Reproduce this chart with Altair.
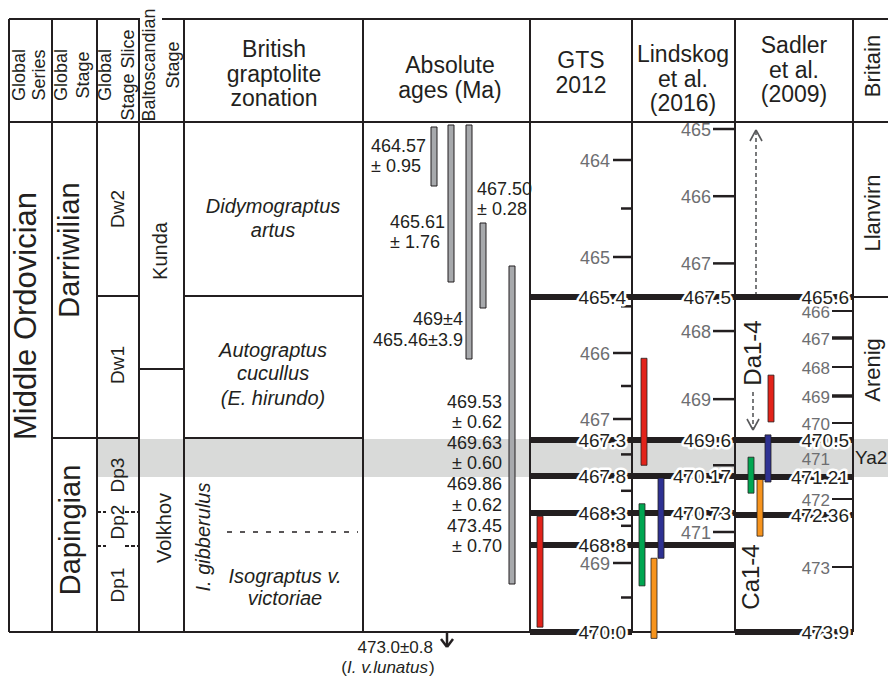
import altair as alt
import pandas as pd

# ---------------- values ----------------
series_name = "Middle Ordovician"
stage_names = ["Darriwilian", "Dapingian"]
slice_names = ["Dw2", "Dw1", "Dp3", "Dp2", "Dp1"]
balto_names = ["Kunda", "Volkhov"]
zone_names = [["Didymograptus", "artus"],
              ["Autograptus", "cucullus", "(E. hirundo)"],
              ["Isograptus v.", "victoriae"]]
subzone_name = "I. gibberulus"
britain_names = ["Llanvirn", "Arenig"]
britain_stage = "Ya2"
sadler_zone_names = ["Da1-4", "Ca1-4"]

header_flat = [["British", "graptolite", "zonation"], ["Absolute", "ages (Ma)"],
               ["GTS", "2012"], ["Lindskog", "et al.", "(2016)"], ["Sadler", "et al.", "(2009)"]]
header_rot = [["Global", "Series"], ["Global", "Stage"], ["Global", "Stage Slice"],
              ["Baltoscandian", "Stage"], ["Britain"]]

abs_labels = [["464.57", "± 0.95"], ["465.61", "± 1.76"], ["467.50", "± 0.28"],
              ["469±4", "465.46±3.9"],
              ["469.53", "± 0.62", "469.63", "± 0.60", "469.86", "± 0.62", "473.45", "± 0.70"]]
# stratigraphic extent of the absolute-age bars (diagram units)
abs_bar_from = [127, 125, 125, 223, 266]
abs_bar_to = [186, 282, 359, 308, 584]
below_age = "473.0±0.8"
below_zone = "I. v.lunatus"

gts_major = [464, 465, 466, 467, 469]
gts_minor = [464.5, 465.5, 466.5, 467.5, 468.0, 468.5, 469.5]
gts_bounds = [465.4, 467.3, 467.8, 468.3, 468.8, 470.0]
gts_bound_labels = ["465.4", "467.3", "467.8", "468.3", "468.8", "470.0"]
gts_bounds_across = [468.8]
gts_bar_names = ["red"]
gts_bar_start = [468.35]
gts_bar_end = [469.93]

lind_major = [465, 466, 467, 468, 469, 471]
lind_minor = [470]
lind_bounds = [467.5, 469.6, 470.17, 470.73]
lind_bound_labels = ["467.5", "469.6", "470.17", "470.73"]
lind_bar_names = ["red", "green", "blue", "orange"]
lind_bar_start = [468.4, 470.59, 470.2, 471.39]
lind_bar_end = [470.0, 471.8, 471.39, 472.58]

sadler_labels = [466, 467, 468, 469, 470, 472, 473]
sadler_label_in_band = [471]
sadler_ticks = [466, 468, 470, 472, 473]
sadler_bold_ticks = [467, 469]
sadler_bounds = [465.6, 470.5, 471.21, 472.36, 473.9]
sadler_bound_labels = ["465.6", "470.5", "471.21", "472.36", "473.9"]
sadler_bar_names = ["red", "blue", "green", "orange"]
sadler_bar_start = [468.28, 470.35, 470.83, 471.3]
sadler_bar_end = [469.96, 471.39, 471.79, 472.62]

# ---------------- layout & style ----------------
W, H, X0, Y0 = 880, 670, 8, 8
FONT = "Liberation Sans"
INK = "#231f20"
TICKGRAY = "#6d6e71"
BAND = "#d9dad9"
BARGRAY = "#a7a9ac"
ARROW = "#58595b"
PALETTE = {"red": "#e2231a", "green": "#00a651", "blue": "#2e3192", "orange": "#f7941d"}

XS = alt.Scale(domain=[X0, X0 + W], range=[0, W])
PX = alt.Scale(domain=[Y0, Y0 + H], range=[0, H])


def age_scale(ages, px):
    return alt.Scale(domain=ages, range=[p - Y0 for p in px])


GTS = age_scale([464, 465, 465.4, 466, 467, 467.3, 467.8, 468.3, 468.8, 469, 470],
                [160, 257, 297, 353, 419, 440, 476, 513, 545, 563, 632])
LIND = age_scale([465, 467.5, 469.6, 470.17, 470.73, 471, 472.5],
                 [129, 297, 440, 476, 513, 532, 633])
SADL = age_scale([465.6, 466, 467, 468, 469, 470, 470.5, 471.21, 472, 472.36, 473, 473.9],
                 [297, 311, 338, 367, 396, 423, 440, 477, 499, 515, 567, 632])

EDGES = [9, 52, 97, 139, 184, 363, 530, 632, 735, 853]
TOP, HDR, BOT = 19, 122, 632


def rule_layer(rows, scale=PX, **mk):
    df = pd.DataFrame(rows)
    enc = {"x": alt.X("x:Q", scale=XS, axis=None), "y": alt.Y("y:Q", scale=scale, axis=None)}
    if "x2" in df.columns:
        enc["x2"] = alt.X2("x2:Q")
    if "y2" in df.columns:
        enc["y2"] = alt.Y2("y2:Q")
    mk.setdefault("color", INK)
    return alt.Chart(df).mark_rule(**mk).encode(**enc)


def rect_layer(rows, scale=PX, **mk):
    df = pd.DataFrame(rows)
    enc = {"x": alt.X("x:Q", scale=XS, axis=None), "x2": alt.X2("x2:Q"),
           "y": alt.Y("y:Q", scale=scale, axis=None), "y2": alt.Y2("y2:Q")}
    if "c" in df.columns:
        enc["fill"] = alt.Fill("c:N", scale=None)
    return alt.Chart(df).mark_rect(**mk).encode(**enc)


def text_layer(rows, scale=PX, **mk):
    df = pd.DataFrame(rows)
    props = dict(font=FONT, baseline="middle", fill=INK)
    props.update(mk)
    return alt.Chart(df).mark_text(**props).encode(
        x=alt.X("x:Q", scale=XS, axis=None), y=alt.Y("y:Q", scale=scale, axis=None), text="t:N")


L = []

# highlighted band (Dp3 interval)
L.append(rect_layer([{"x": 97, "x2": 888, "y": 439, "y2": 477}], fill=BAND))

# thin frame lines
vert = [{"x": e, "y": TOP, "y2": BOT} for e in EDGES]
horiz = [(9, 140, TOP), (162, 888, TOP), (9, 888, HDR), (97, 139, 296), (184, 363, 296),
         (139, 184, 369), (52, 139, 438), (184, 363, 438), (9, 530, BOT), (632, 735, BOT),
         (853, 888, 297)]
L.append(rule_layer(vert, strokeWidth=2))
L.append(rule_layer([{"x": a, "x2": b, "y": y} for a, b, y in horiz], strokeWidth=2))
L.append(rule_layer([{"x": a, "x2": b, "y": y} for y in (512, 546) for a, b in ((97, 106), (125, 139))],
                    strokeWidth=2, strokeDash=[4, 2]))
L.append(rule_layer([{"x": 227, "x2": 358, "y": 532}], strokeWidth=1.5, strokeDash=[5, 8]))

# absolute ages bars
ABS_X = [431, 448, 466, 480, 509]
L.append(rect_layer([{"x": x, "x2": x + 6, "y": a, "y2": b}
                     for x, a, b in zip(ABS_X, abs_bar_from, abs_bar_to)],
                    fill=BARGRAY, stroke=INK, strokeWidth=1))

# absolute ages labels
ABS_POS = [(371, "left", [147, 167]), (390, "left", [223, 243]), (477, "left", [190, 210]),
           (463, "right", [320, 341]), (502, "right", [403, 423, 444, 464, 485, 506, 527, 547])]
for (x, al, ys), labs in zip(ABS_POS, abs_labels):
    L.append(text_layer([{"x": x, "y": y, "t": t} for y, t in zip(ys, labs)], align=al, fontSize=18))
L.append(text_layer([{"x": 433, "y": 648, "t": below_age}], align="right", fontSize=17))
L.append(text_layer([{"x": 428, "y": 668, "t": below_zone}], align="right", fontSize=17, fontStyle="italic"))
L.append(text_layer([{"x": 347, "y": 668, "t": "("}], align="right", fontSize=17))
L.append(text_layer([{"x": 429, "y": 668, "t": ")"}], align="left", fontSize=17))
L.append(rule_layer([{"x": 447, "x2": 447, "y": 633, "y2": 646},
                     {"x": 441, "x2": 447, "y": 639, "y2": 647},
                     {"x": 453, "x2": 447, "y": 639, "y2": 647}], strokeWidth=2.5))

# ---- GTS 2012 column
L.append(rule_layer([{"x": 613, "x2": 632, "y": a} for a in gts_major], GTS, strokeWidth=2.5))
L.append(rule_layer([{"x": 621, "x2": 632, "y": a} for a in gts_minor], GTS, strokeWidth=2.5))
L.append(text_layer([{"x": 610, "y": a, "t": str(a)} for a in gts_major], GTS,
                    align="right", fontSize=18, fill=TICKGRAY, dy=2))
L.append(rule_layer([{"x": 530, "x2": 735 if a in gts_bounds_across else 632, "y": a} for a in gts_bounds],
                    GTS, strokeWidth=6))
L.append(rect_layer([{"x": 537, "x2": 543, "y": a, "y2": b, "c": PALETTE[n]}
                     for n, a, b in zip(gts_bar_names, gts_bar_start, gts_bar_end)], GTS,
                    stroke=INK, strokeWidth=0.8))

# ---- Lindskog column
L.append(rule_layer([{"x": 713, "x2": 735, "y": a} for a in lind_major + lind_minor], LIND, strokeWidth=2.5))
L.append(text_layer([{"x": 711, "y": a, "t": str(a)} for a in lind_major], LIND,
                    align="right", fontSize=18, fill=TICKGRAY, dy=2))
L.append(rule_layer([{"x": 632, "x2": 735, "y": a} for a in lind_bounds], LIND, strokeWidth=6))
LIND_X = {"red": 641, "green": 639, "blue": 658, "orange": 651}
L.append(rect_layer([{"x": LIND_X[n], "x2": LIND_X[n] + 6, "y": a, "y2": b, "c": PALETTE[n]}
                     for n, a, b in zip(lind_bar_names, lind_bar_start, lind_bar_end)], LIND,
                    stroke=INK, strokeWidth=0.8))

# ---- Sadler column
L.append(rule_layer([{"x": 832, "x2": 853, "y": a} for a in sadler_ticks], SADL, strokeWidth=2))
L.append(rule_layer([{"x": 832, "x2": 853, "y": a} for a in sadler_bold_ticks], SADL, strokeWidth=3.5))
L.append(text_layer([{"x": 830, "y": a, "t": str(a)} for a in sadler_labels], SADL,
                    align="right", fontSize=17, fill=TICKGRAY, dy=2))
L.append(text_layer([{"x": 830, "y": a, "t": str(a)} for a in sadler_label_in_band], SADL,
                    align="right", fontSize=17, fill=TICKGRAY, dy=-6))
L.append(rule_layer([{"x": 735, "x2": 853, "y": a} for a in sadler_bounds], SADL, strokeWidth=6))
SADL_X = {"red": 768, "blue": 765, "green": 748, "orange": 757}
L.append(rect_layer([{"x": SADL_X[n], "x2": SADL_X[n] + 6, "y": a, "y2": b, "c": PALETTE[n]}
                     for n, a, b in zip(sadler_bar_names, sadler_bar_start, sadler_bar_end)], SADL,
                    stroke=INK, strokeWidth=0.8))
L.append(rule_layer([{"x": 756, "x2": 756, "y": 131, "y2": 294},
                     {"x": 753, "x2": 753, "y": 392, "y2": 428}],
                    color=ARROW, strokeWidth=1.6, strokeDash=[4, 3]))
L.append(rule_layer([{"x": 750, "x2": 756, "y": 141, "y2": 130}, {"x": 762, "x2": 756, "y": 141, "y2": 130},
                     {"x": 747, "x2": 753, "y": 419, "y2": 430}, {"x": 759, "x2": 753, "y": 419, "y2": 430}],
                    color=ARROW, strokeWidth=1.6))

# boundary labels with white halo
for scale, x, ages, labs in ((GTS, 626, gts_bounds, gts_bound_labels),
                             (LIND, 731, lind_bounds, lind_bound_labels),
                             (SADL, 849, sadler_bounds, sadler_bound_labels)):
    rows = [{"x": x, "y": a, "t": t} for a, t in zip(ages, labs)]
    L.append(text_layer(rows, scale, align="right", fontSize=19, dy=1,
                        fill="white", stroke="white", strokeWidth=5, strokeJoin="round"))
    L.append(text_layer(rows, scale, align="right", fontSize=19, dy=1))

# ---- header texts
FLAT_X = [274, 450, 581, 683, 794]
FLAT_Y = [50, 66, 61, 55, 46]
L.append(text_layer([{"x": x, "y": y0 + 24.5 * i, "t": t}
                     for x, y0, lines in zip(FLAT_X, FLAT_Y, header_flat) for i, t in enumerate(lines)],
                    align="center", fontSize=23))
ROT_X = [[20, 40], [62, 84], [106, 129], [150, 174]]
ROT_Y = [75, 75, 75, 65]
L.append(text_layer([{"x": x, "y": y, "t": t}
                     for xs, y, lines in zip(ROT_X, ROT_Y, header_rot[:4]) for x, t in zip(xs, lines)],
                    align="center", angle=270, fontSize=18))
L.append(text_layer([{"x": 873, "y": 66, "t": header_rot[4][0]}], align="center", angle=270, fontSize=22))

# ---- body texts
L.append(text_layer([{"x": 27, "y": 316, "t": series_name}], align="center", angle=270, fontSize=31))
L.append(text_layer([{"x": x, "y": y, "t": t} for x, y, t in zip([70, 71], [250, 530], stage_names)],
                    align="center", angle=270, fontSize=29))
L.append(text_layer([{"x": 118, "y": y, "t": t} for y, t in zip([209, 365, 475, 522, 585], slice_names)],
                    align="center", angle=270, fontSize=19))
L.append(text_layer([{"x": x, "y": y, "t": t} for x, y, t in zip([161, 165], [251, 528], balto_names)],
                    align="center", angle=270, fontSize=20))
L.append(text_layer([{"x": 204, "y": 537, "t": subzone_name}], align="center", angle=270,
                    fontSize=20, fontStyle="italic"))
ZONE_X = [273, 273, 285]
ZONE_Y = [[207, 231], [351, 374, 399], [577, 599]]
L.append(text_layer([{"x": x, "y": y, "t": t} for x, ys, lines in zip(ZONE_X, ZONE_Y, zone_names)
                     for y, t in zip(ys, lines)], align="center", fontSize=20, fontStyle="italic"))
L.append(text_layer([{"x": 873, "y": y, "t": t} for y, t in zip([213, 370], britain_names)],
                    align="center", angle=270, fontSize=22))
L.append(text_layer([{"x": 855, "y": 458, "t": britain_stage}], align="left", fontSize=19))
L.append(text_layer([{"x": x, "y": y, "t": t} for x, y, t in zip([754, 752], [353, 577], sadler_zone_names)],
                    align="center", angle=270, fontSize=24))

chart = alt.layer(*L).resolve_scale(y="independent").properties(
    width=W, height=H, autosize=alt.AutoSizeParams(type="none"), padding=0
).configure_view(stroke=None)

chart.save("out.html", embed_options={"renderer": "svg", "actions": False})
